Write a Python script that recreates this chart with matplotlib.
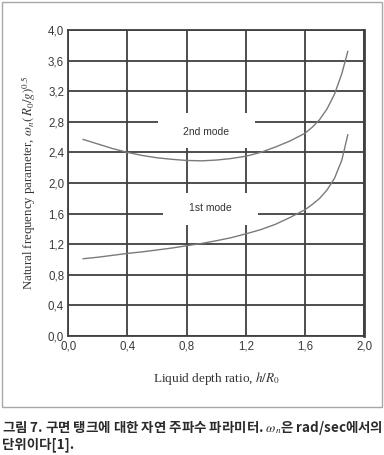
import numpy as np
import matplotlib.pyplot as plt
from matplotlib.patches import Rectangle

# data (h/R0 vs frequency parameter)
h_ratio = [0.1, 0.2, 0.3, 0.4, 0.5, 0.6, 0.7, 0.8, 0.9, 1.0, 1.1,
           1.2, 1.3, 1.4, 1.5, 1.6, 1.65, 1.7, 1.75, 1.8, 1.85, 1.89]
mode2 = [2.57, 2.51, 2.45, 2.40, 2.36, 2.33, 2.31, 2.295, 2.29, 2.30, 2.32,
         2.35, 2.40, 2.47, 2.55, 2.65, 2.73, 2.83, 2.97, 3.16, 3.43, 3.72]
mode1 = [1.01, 1.03, 1.055, 1.08, 1.10, 1.125, 1.15, 1.18, 1.21, 1.245, 1.285,
         1.335, 1.39, 1.46, 1.55, 1.65, 1.72, 1.80, 1.91, 2.06, 2.30, 2.63]

x_ticks = [0.0, 0.4, 0.8, 1.2, 1.6, 2.0]
y_ticks = [0.0, 0.4, 0.8, 1.2, 1.6, 2.0, 2.4, 2.8, 3.2, 3.6, 4.0]
mode_labels = ['2nd mode', '1st mode']

plt.rcParams['mathtext.fontset'] = 'stix'

fig = plt.figure(figsize=(3.84, 4.55), dpi=100)
ax = fig.add_axes([0.178, 0.2615, 0.770, 0.6725])

# outer frame
fig.patches.append(Rectangle((0.004, 0.1055), 0.990, 0.890, transform=fig.transFigure,
                             fill=False, edgecolor='#a8a8a8', linewidth=1.0))

ax.set_xlim(0, 2.0)
ax.set_ylim(0, 4.0)
ax.set_xticks(x_ticks)
ax.set_yticks(y_ticks)
ax.set_xticklabels([f'{v:.1f}'.replace('.', ',') for v in x_ticks],
                   family='Liberation Sans', fontsize=8.3, color='#3a3a3a')
ax.set_yticklabels([f'{v:.1f}'.replace('.', ',') for v in y_ticks],
                   family='Liberation Sans', fontsize=8.3, color='#3a3a3a')
ax.tick_params(length=0, pad=3)

ax.set_axisbelow(True)
ax.grid(True, color='#404040', linewidth=1.3)
for s in ax.spines.values():
    s.set_color('#404040')
    s.set_linewidth(1.3)
ax.spines['right'].set_linewidth(2.0)

ax.plot(h_ratio, mode2, color='#7a7a7a', linewidth=1.0, zorder=3)
ax.plot(h_ratio, mode1, color='#7a7a7a', linewidth=1.0, zorder=3)

# white patches behind labels that cut the grid
ax.add_patch(Rectangle((0.605, 2.457), 0.655, 0.458, facecolor='white',
                       edgecolor='none', zorder=1))
ax.add_patch(Rectangle((0.64, 1.446), 0.645, 0.43, facecolor='white',
                       edgecolor='none', zorder=1))
ax.text(0.93, 2.667, mode_labels[0], ha='center', va='center', fontsize=7.5,
        family='Liberation Sans', color='#333333', zorder=4)
ax.text(0.96, 1.673, mode_labels[1], ha='center', va='center', fontsize=7.5,
        family='Liberation Sans', color='#333333', zorder=4)

ax.set_xlabel(r'Liquid depth ratio, $h/R_0$', family='Liberation Serif',
              fontsize=9.5, color='#333333', labelpad=13)
ax.set_ylabel(r'Natural frequency parameter, $\omega_n(\,R_0/g)^{0.5}$',
              family='Liberation Serif', fontsize=9.3, color='#333333', labelpad=7)

fig.text(0.004, 0.0615, '그림 7. 구면 탱크에 대한 자연 주파수 파라미터. $\\omega_n$은 rad/sec에서의',
         family='Noto Sans CJK KR', fontsize=9.7, weight='bold', color='#2a2a2a',
         va='center')
fig.text(0.004, 0.022, '단위이다[1].', family='Noto Sans CJK KR', fontsize=9.7,
         weight='bold', color='#2a2a2a', va='center')

fig.savefig('out.png', dpi=100)
